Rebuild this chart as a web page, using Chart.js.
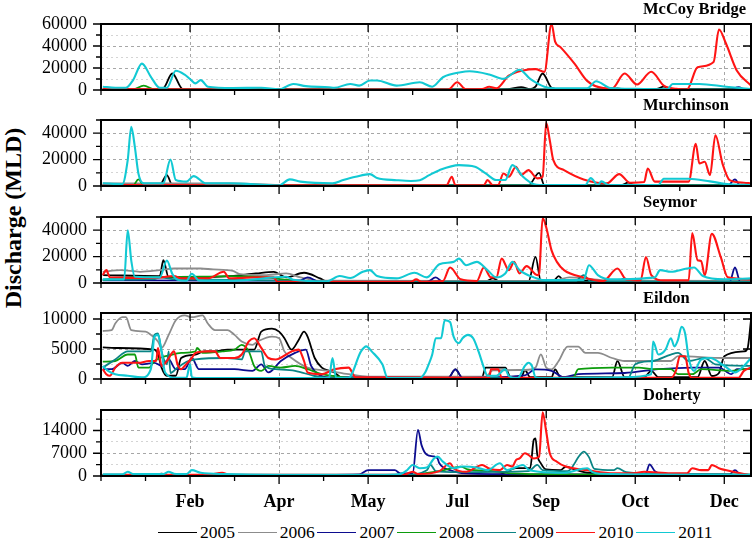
<!DOCTYPE html>
<html>
<head>
<meta charset="utf-8">
<script src="https://cdn.jsdelivr.net/npm/chart.js@4.4.1/dist/chart.umd.min.js"></script>
<style>
  html, body { margin: 0; padding: 0; background: #fff; }
  #fig { position: relative; width: 754px; height: 541px; overflow: hidden; font-family: "Liberation Serif", "Times New Roman", serif; }
  .panel { position: absolute; left: 0; width: 754px; }
  .ptitle { position: absolute; left: 643px; font-weight: bold; font-size: 16.5px; line-height: 1; white-space: nowrap; z-index: 2; }
  .ytitle { position: absolute; left: -97px; top: 205px; width: 220px; height: 26px; line-height: 26px;
            text-align: center; font-weight: bold; font-size: 24px; transform: rotate(-90deg); white-space: nowrap; }
  #legend { position: absolute; left: 158px; top: 523px; display: flex; font-size: 17.5px; line-height: 18px; }
  #legend .item { display: flex; align-items: flex-start; width: 79.7px; }
  #legend .swatch { width: 39px; height: 0; margin-top: 8.5px; margin-right: 3px; border-top: 1.6px solid #000; }
</style>
</head>
<body>
<div id="fig">
  <div class="ytitle">Discharge (MLD)</div>
  <div id="legend"></div>
</div>
<script>
/* ── Axis labels ── */
const years = ["2005", "2006", "2007", "2008", "2009", "2010", "2011"];
const monthDays = [50, 100, 150, 200, 250, 300, 350];
const monthLabels = ["Feb", "Apr", "May", "Jul", "Sep", "Oct", "Dec"];
const mccoyTicks = [0, 20000, 40000, 60000];
const murchTicks = [0, 20000, 40000];
const seymorTicks = [0, 20000, 40000];
const eildonTicks = [0, 5000, 10000];
const dohertyTicks = [0, 7000, 14000];

/* ── Daily discharge, [day of year, MLD] ── */
const mccoy2005 = [[1,600],[30,600],[35,1500],[40,15000],[46,800],[120,500],[200,500],[228,800],[236,2500],[241,800],[244,3000],[248,15000],[253,2000],[258,600],[286,600],[290,1500],[294,600],[312,1000],[316,3000],[320,1000],[365,800]];
const mccoy2006 = [[1,900],[60,900],[100,600],[200,400],[300,500],[365,500]];
const mccoy2007 = [[1,300],[150,400],[168,300],[353,300],[358,2500],[362,300],[365,300]];
const mccoy2008 = [[1,400],[18,500],[24,4000],[30,600],[200,400],[365,400]];
const mccoy2009 = [[1,500],[200,400],[365,300]];
const mccoy2010 = [[1,800],[100,500],[195,500],[200,7000],[205,600],[214,800],[218,3000],[222,1500],[229,13000],[237,17800],[244,19000],[249,16500],[253,60000],[255,44000],[258,39000],[266,23700],[273,8300],[282,1800],[287,1500],[294,15000],[301,5000],[309,16600],[316,4000],[323,1000],[329,500],[335,20600],[344,25500],[347,55000],[351,42000],[357,17800],[365,4000]];
const mccoy2011 = [[1,3000],[8,2000],[14,2000],[18,9000],[23,24000],[28,12000],[33,2000],[37,2000],[42,17500],[47,14000],[50,10000],[53,6000],[56,9000],[60,3000],[74,1800],[90,2000],[100,600],[108,5500],[115,3500],[128,2500],[131,2000],[140,5500],[145,4000],[151,8600],[155,8600],[166,4000],[179,7000],[186,3000],[192,11600],[202,16200],[207,17000],[218,14100],[226,10100],[235,18400],[241,10100],[249,3000],[255,1500],[273,1500],[278,8000],[286,1800],[300,1000],[318,600],[321,5500],[336,5500],[351,3000],[365,900]];

const murch2005 = [[1,800],[33,800],[37,8300],[40,800],[120,500],[240,500],[246,10000],[249,600],[292,600],[296,2500],[300,600],[365,500]];
const murch2006 = [[1,2000],[75,2000],[100,700],[200,400],[365,400]];
const murch2007 = [[1,300],[352,300],[356,5000],[359,400],[365,400]];
const murch2008 = [[1,500],[18,500],[21,5000],[24,600],[200,400],[365,400]];
const murch2009 = [[1,400],[365,400]];
const murch2010 = [[1,700],[100,600],[194,600],[197,7000],[199,600],[215,600],[217,4500],[220,600],[223,800],[226,9500],[229,7000],[233,14600],[236,8300],[240,12000],[245,5800],[248,7000],[250,47800],[252,34700],[254,19600],[260,12000],[271,5000],[284,2000],[291,9000],[297,2500],[305,3000],[307,13300],[311,3300],[330,3300],[334,32000],[336,17000],[339,18400],[342,8300],[345,38500],[349,17000],[353,4500],[361,2500],[365,2000]];
const murch2011 = [[1,2000],[12,1500],[15,19600],[17,44800],[19,29700],[21,9500],[24,2000],[35,2000],[39,20000],[42,4500],[48,3300],[52,7500],[59,2000],[72,2000],[100,500],[106,5000],[112,3300],[130,2000],[136,4500],[143,7000],[151,9000],[155,6000],[166,4400],[174,3800],[179,4400],[184,8000],[190,12000],[201,15800],[210,14600],[216,9500],[222,4500],[227,4500],[231,15800],[237,7000],[242,2000],[248,750],[272,750],[275,6000],[279,800],[281,3500],[285,800],[313,800],[316,5500],[330,5500],[342,3500],[353,1200],[365,800]];

const seymor2005 = [[1,6000],[33,5250],[35,17250],[38,4250],[70,5000],[87,7250],[97,8500],[104,4250],[114,7750],[123,3500],[127,1000],[216,1000],[220,3500],[224,1000],[240,1000],[244,19750],[247,1500],[254,1500],[257,5250],[260,1500],[267,2000],[290,1000],[294,3500],[297,1000],[365,1000]];
const seymor2006 = [[1,8500],[11,9750],[22,8500],[33,9750],[41,11000],[56,11000],[63,10250],[74,9250],[78,6750],[93,6000],[104,7250],[112,4250],[123,1750],[200,1500],[255,2000],[263,4250],[275,3000],[286,1800],[365,1500]];
const seymor2007 = [[1,2000],[60,1800],[100,1800],[112,2000],[116,4250],[123,800],[183,800],[188,4250],[192,800],[353,800],[356,11750],[359,800],[365,800]];
const seymor2008 = [[1,2250],[18,4250],[56,4750],[74,5250],[93,4250],[102,2750],[112,1250],[130,600],[365,500]];
const seymor2009 = [[1,2500],[30,3000],[33,4250],[40,3000],[60,2500],[100,1800],[130,1000],[266,1000],[271,6000],[275,1200],[365,1000]];
const seymor2010 = [[1,6000],[3,9750],[5,4250],[30,3800],[41,5250],[45,3500],[60,3500],[69,8500],[72,3500],[87,4250],[97,4250],[99,1000],[174,1000],[177,2750],[180,1000],[192,1500],[196,11750],[202,2750],[211,1500],[215,11750],[219,4250],[222,4250],[225,18500],[229,9750],[232,16000],[235,7250],[239,12750],[245,6000],[246,7000],[248,49250],[250,42250],[253,24750],[256,16000],[260,9750],[271,4250],[282,1500],[290,11000],[295,2500],[303,2000],[306,19750],[309,6000],[316,2000],[330,2000],[332,37750],[335,17250],[337,16750],[339,6000],[343,37250],[348,19750],[352,4250],[365,2750]];
const seymor2011 = [[1,2750],[13,2750],[15,40000],[17,17000],[19,4750],[33,4250],[37,17000],[40,7000],[43,2500],[48,1750],[51,7000],[55,2000],[75,1750],[104,4750],[108,2500],[127,1250],[134,5250],[140,3750],[147,8500],[151,9750],[155,5250],[166,3500],[176,7750],[183,4250],[190,14250],[198,16000],[201,18500],[205,13500],[211,16000],[217,9750],[222,4250],[227,7250],[231,16000],[235,9750],[243,4250],[249,2250],[271,2250],[274,13500],[279,6000],[286,2750],[311,4250],[314,9750],[320,8500],[329,11000],[333,11750],[338,5250],[350,2750],[365,3500]];

const eildon2005 = [[1,5280],[8,5170],[30,4900],[32,4080],[34,1900],[37,540],[42,540],[45,3500],[53,4080],[58,4600],[64,4600],[71,4900],[86,4900],[90,7900],[96,8400],[100,7900],[103,6800],[107,4900],[111,6500],[114,7900],[116,7070],[120,3500],[124,1900],[128,1360],[131,1090],[135,270],[195,200],[199,1600],[203,200],[214,300],[216,1900],[227,1900],[230,300],[236,300],[238,1500],[241,300],[253,300],[255,1600],[258,300],[287,300],[290,3000],[294,300],[305,300],[309,1360],[313,300],[335,300],[339,3000],[343,500],[347,1000],[350,3800],[361,4600],[363,5000],[365,9800]];
const eildon2006 = [[1,8000],[6,8150],[8,9250],[12,10300],[14,10300],[17,8150],[25,7900],[28,7350],[32,6260],[34,5170],[38,7350],[42,9800],[47,10600],[51,10300],[57,10600],[60,9250],[64,8150],[71,8150],[75,7350],[79,6260],[85,5700],[88,6260],[96,7070],[100,6800],[103,4600],[107,3500],[116,1900],[128,1360],[139,800],[150,400],[216,400],[220,1450],[238,1500],[244,1900],[247,4100],[250,1900],[253,1600],[257,3000],[262,5400],[268,5400],[272,4350],[279,4350],[287,3500],[294,3000],[320,3000],[324,3800],[350,3500],[365,3500]];
const eildon2007 = [[1,1630],[6,1630],[12,2700],[15,2180],[19,3000],[23,2450],[30,2700],[34,2180],[38,3260],[42,1630],[47,1630],[51,3500],[55,1630],[75,1630],[85,1360],[90,2450],[94,1090],[101,3000],[109,4350],[115,4900],[118,2180],[122,800],[128,270],[195,200],[199,1600],[203,200],[238,600],[244,1600],[253,1360],[260,300],[268,800],[294,1000],[313,1630],[332,1900],[347,1900],[354,800],[357,1630],[365,1630]];
const eildon2008 = [[1,2880],[8,3000],[15,4080],[19,4080],[21,1900],[27,1900],[30,3000],[40,4080],[45,4350],[53,4600],[54,5170],[57,4350],[68,4600],[75,4900],[79,5700],[83,4600],[86,2180],[90,1360],[94,2180],[101,1900],[109,2180],[116,1630],[124,800],[131,500],[139,200],[265,200],[268,1630],[287,1900],[302,1900],[310,1630],[320,1630],[324,800],[332,800],[337,1630],[354,1360],[361,1630],[365,1630]];
const eildon2009 = [[1,1900],[8,3260],[15,4600],[28,4600],[30,7350],[32,7600],[34,4600],[37,2450],[38,4600],[39,1000],[43,1900],[49,3000],[53,3260],[71,3500],[79,3260],[81,4600],[90,4600],[92,2180],[98,1630],[109,1360],[120,500],[128,200],[296,200],[300,2450],[310,3000],[320,4080],[324,4350],[330,3000],[339,3500],[345,2450],[365,2180]];
const eildon2010 = [[1,1630],[3,800],[5,540],[8,1900],[12,2700],[21,2700],[27,3000],[31,3000],[32,5170],[34,2180],[37,3000],[41,4600],[43,2400],[45,1630],[47,2180],[51,3500],[53,4350],[60,4600],[64,4600],[67,3500],[75,3500],[79,4080],[83,6260],[86,6800],[90,5170],[94,3500],[98,3260],[107,4600],[111,4900],[114,3000],[116,1090],[124,800],[131,1630],[139,1900],[143,270],[218,200],[219,1630],[223,1630],[225,200],[320,200],[323,1500],[325,3800],[328,3800],[330,1000],[332,200],[358,200],[361,1360],[365,1900]];
const eildon2011 = [[1,2180],[4,1360],[8,800],[15,540],[23,270],[28,1630],[30,7070],[32,7350],[34,4600],[36,1090],[42,200],[48,200],[50,2450],[51,300],[57,150],[128,150],[130,3500],[132,200],[139,200],[146,4600],[149,5440],[152,4600],[158,2450],[161,150],[179,150],[182,1090],[184,2450],[186,4080],[188,6800],[191,6800],[193,9800],[196,9500],[198,7070],[201,5980],[203,6800],[206,7350],[209,6800],[212,4600],[215,1900],[217,540],[222,540],[227,1630],[229,500],[234,150],[238,2180],[240,2700],[242,2180],[244,300],[250,150],[294,300],[309,800],[310,6260],[313,4080],[317,4900],[320,6800],[322,5440],[324,6530],[326,8700],[328,7600],[330,3500],[333,1360],[337,3260],[342,3500],[350,2180],[356,1090],[361,2180],[365,3500]];

const doherty2005 = [[1,300],[30,300],[34,700],[38,300],[200,300],[224,500],[233,2400],[241,2400],[243,11100],[244,11600],[245,6500],[247,3900],[250,2000],[258,1800],[261,2900],[265,2200],[273,1000],[300,500],[365,300]];
const doherty2006 = [[1,300],[200,300],[365,300]];
const doherty2007 = [[1,300],[100,300],[145,500],[150,1800],[165,1800],[168,800],[175,800],[178,14200],[180,9500],[183,6500],[187,6000],[189,5400],[190,3900],[196,1800],[205,800],[240,500],[300,500],[306,800],[308,3600],[311,1500],[316,500],[353,500],[356,1800],[359,500],[365,300]];
const doherty2008 = [[1,300],[170,300],[190,1500],[202,2900],[206,2000],[220,1500],[230,800],[260,500],[365,400]];
const doherty2009 = [[1,300],[170,300],[183,1800],[185,3400],[188,1500],[200,1200],[240,1500],[245,3400],[248,1800],[262,1500],[269,6500],[271,7500],[274,5800],[277,2200],[288,1800],[290,2400],[295,1200],[320,600],[365,400]];
const doherty2010 = [[1,400],[60,400],[68,1000],[72,400],[170,400],[175,1300],[178,600],[190,1500],[196,3900],[198,2400],[205,1300],[214,3400],[218,2300],[224,1800],[228,3400],[231,2900],[233,4900],[235,5400],[238,7000],[240,6500],[243,5400],[246,5900],[248,19600],[250,13700],[252,7000],[256,4400],[261,2900],[273,1800],[288,800],[299,800],[305,1300],[320,800],[329,800],[332,2400],[337,1800],[341,1800],[343,3400],[347,2400],[355,1300],[364,300]];
const doherty2011 = [[1,500],[12,500],[15,1300],[18,600],[35,600],[38,1300],[41,700],[48,600],[51,1800],[56,1000],[70,600],[100,400],[160,400],[168,600],[172,1850],[175,3400],[179,2400],[183,2600],[187,5400],[189,6000],[192,4400],[198,2400],[203,2900],[211,2600],[217,1800],[224,3900],[228,1800],[237,3400],[240,2000],[246,1300],[260,1000],[273,2400],[276,1200],[280,700],[365,400]];

/* ── Styling / layout ── */
const colors = ["#000000", "#8c8c8c", "#0c0c8f", "#0c9c0c", "#0a8484", "#ff1414", "#12c9d3"];
const PANEL_H = 66;
const PAD_TOP = 14;

const panels = [
  { title: "McCoy Bridge", top: 24,  max: 60000, minor: 10000, ticks: mccoyTicks,
    series: [mccoy2005, mccoy2006, mccoy2007, mccoy2008, mccoy2009, mccoy2010, mccoy2011] },
  { title: "Murchinson",   top: 120, max: 50000, minor: 10000, ticks: murchTicks,
    series: [murch2005, murch2006, murch2007, murch2008, murch2009, murch2010, murch2011] },
  { title: "Seymor",       top: 217, max: 50000, minor: 10000, ticks: seymorTicks,
    series: [seymor2005, seymor2006, seymor2007, seymor2008, seymor2009, seymor2010, seymor2011] },
  { title: "Eildon",       top: 313, max: 11000, minor: 2500,  ticks: eildonTicks,
    series: [eildon2005, eildon2006, eildon2007, eildon2008, eildon2009, eildon2010, eildon2011] },
  { title: "Doherty",      top: 410, max: 20300, minor: 3500,  ticks: dohertyTicks,
    series: [doherty2005, doherty2006, doherty2007, doherty2008, doherty2009, doherty2010, doherty2011] },
];

/* ── Box frame with mirrored tick marks ── */
const framePlugin = {
  id: "frame",
  afterDraw(chart, args, opts) {
    const { ctx, chartArea: a, scales: { x, y } } = chart;
    ctx.save();
    ctx.strokeStyle = "#000";
    ctx.lineWidth = 1.3;
    ctx.beginPath();
    x.ticks.forEach((t) => {
      const px = x.getPixelForValue(t.value);
      const major = monthDays.includes(t.value);
      ctx.moveTo(px, a.bottom);
      ctx.lineTo(px, a.bottom + (major ? 8 : 5));
      if (major) {
        ctx.moveTo(px, a.top);
        ctx.lineTo(px, a.top + 8);
      }
    });
    y.ticks.forEach((t) => {
      const py = y.getPixelForValue(t.value);
      const major = opts.majors.includes(t.value);
      ctx.moveTo(a.left, py);
      ctx.lineTo(a.left - (major ? 8 : 5), py);
      if (major) {
        ctx.moveTo(a.right, py);
        ctx.lineTo(a.right - 8, py);
      }
    });
    ctx.stroke();
    ctx.lineWidth = 2;
    ctx.strokeRect(a.left, a.top, a.right - a.left, a.bottom - a.top);
    ctx.restore();
  },
};

const fig = document.getElementById("fig");

panels.forEach((p, idx) => {
  const last = idx === panels.length - 1;
  const xH = last ? 44 : 12;

  const title = document.createElement("div");
  title.className = "ptitle";
  title.style.top = (p.top - 23) + "px";
  title.textContent = p.title;
  fig.appendChild(title);

  const wrap = document.createElement("div");
  wrap.className = "panel";
  wrap.style.top = (p.top - PAD_TOP) + "px";
  wrap.style.height = (PAD_TOP + PANEL_H + xH) + "px";
  const canvas = document.createElement("canvas");
  wrap.appendChild(canvas);
  fig.appendChild(wrap);

  new Chart(canvas, {
    type: "line",
    data: {
      datasets: p.series.map((s, i) => ({
        label: years[i],
        data: s.map(([d, v]) => ({ x: d, y: v })),
        borderColor: colors[i],
        borderWidth: i >= 5 ? 2.1 : 1.8,
        pointRadius: 0,
        fill: false,
        cubicInterpolationMode: "monotone",
        order: 6 - i,
      })),
    },
    options: {
      responsive: true,
      maintainAspectRatio: false,
      animation: false,
      events: [],
      layout: { padding: { top: PAD_TOP, right: 3, left: 0, bottom: 0 } },
      plugins: {
        legend: { display: false },
        tooltip: { enabled: false },
        frame: { majors: p.ticks },
      },
      scales: {
        x: {
          type: "linear",
          min: 0,
          max: 365,
          afterBuildTicks: (s) => {
            const t = [];
            for (let v = 0; v <= 350; v += 25) t.push({ value: v });
            s.ticks = t;
          },
          afterFit: (s) => { s.height = xH; s.paddingLeft = 0; s.paddingRight = 0; },
          ticks: {
            display: last,
            autoSkip: false,
            maxRotation: 0,
            padding: 16,
            color: "#000",
            font: { family: "'Liberation Serif', serif", size: 18, weight: "bold" },
            callback: (v) => {
              const k = monthDays.indexOf(v);
              return k >= 0 ? monthLabels[k] : "";
            },
          },
          grid: {
            drawTicks: false,
            lineWidth: 0.9,
            color: (c) => (c.tick && monthDays.includes(c.tick.value) ? "#9e9e9e" : "transparent"),
          },
          border: { display: false, dash: [3, 3] },
        },
        y: {
          min: 0,
          max: p.max,
          afterBuildTicks: (s) => {
            const t = [];
            for (let v = 0; v <= p.max; v += p.minor) t.push({ value: v });
            s.ticks = t;
          },
          afterFit: (s) => { s.width = 101; s.paddingTop = 0; s.paddingBottom = 0; },
          ticks: {
            autoSkip: false,
            padding: 14,
            color: "#000",
            font: { family: "'Liberation Serif', serif", size: 18 },
            callback: (v) => (p.ticks.includes(v) ? String(v) : ""),
          },
          grid: {
            drawTicks: false,
            lineWidth: 0.9,
            color: (c) => {
              const v = c.tick ? c.tick.value : 0;
              if (v === 0 || v >= p.max) return "transparent";
              return p.ticks.includes(v) ? "#9e9e9e" : "#cfcfcf";
            },
          },
          border: {
            display: false,
            dash: (c) => (c.tick && p.ticks.includes(c.tick.value) ? [3, 3] : [2, 3]),
          },
        },
      },
    },
    plugins: [framePlugin],
  });
});

/* ── Legend ── */
const legend = document.getElementById("legend");
years.forEach((yr, i) => {
  const item = document.createElement("div");
  item.className = "item";
  const sw = document.createElement("span");
  sw.className = "swatch";
  sw.style.borderTopColor = colors[i];
  const txt = document.createElement("span");
  txt.textContent = yr;
  item.appendChild(sw);
  item.appendChild(txt);
  legend.appendChild(item);
});
</script>
</body>
</html>
